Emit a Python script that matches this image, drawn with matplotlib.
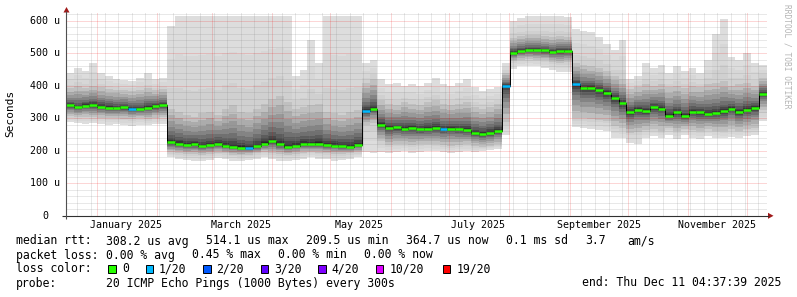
import numpy as np
import matplotlib
matplotlib.use("Agg")
import matplotlib.pyplot as plt
import matplotlib.dates as mdates
from matplotlib.patches import Rectangle, Polygon
from datetime import datetime, timedelta

plt.rcParams["font.family"] = ["DejaVu Sans Mono", "DejaVu Sans"]

END = datetime(2025, 12, 11, 4, 37, 39)
START = END - timedelta(days=360)
STEP_DAYS = 4

# one value per 4-day column, in microseconds
median_us = [340, 334, 339, 341, 336, 333, 331, 334, 329, 328, 333, 337, 340,
             226, 222, 218, 220, 214, 218, 222, 215, 212, 210, 208, 214, 222,
             230, 220, 212, 216, 222, 220, 222, 218, 216, 214, 212, 218,
             322, 330,
             280, 270, 272, 268, 270, 266, 268, 270, 266, 268, 266, 264, 255,
             252, 256, 262,
             400,
             502, 508, 510, 510, 509, 504, 506, 508,
             405,
             392, 394, 386, 378, 362, 346, 318, 326, 322, 334, 330, 308, 318,
             306, 320, 318, 314, 316, 322, 330, 318, 326, 332, 376]

smoke_min = [288, 285, 284, 286, 283, 280, 282, 278, 276, 280, 278, 282, 284,
             180, 176, 172, 170, 168, 172, 178, 174, 170, 168, 172, 176, 180,
             174, 170, 168, 172, 176, 180, 176, 174, 170, 172, 176, 180,
             195, 192,
             195, 192, 196, 198, 194, 196, 200, 198, 195, 192, 196, 198, 195,
             200, 202, 205,
             250,
             452, 460, 462, 460, 456, 448, 444, 442,
             272,
             270, 266, 264, 262, 240, 238, 225, 222, 240, 245, 238, 250, 236,
             248, 240, 235, 245, 240, 238, 244, 240, 246, 250, 292]

smoke_lo = [306, 304, 305, 303, 302, 300, 301, 299, 298, 300, 298, 302, 304,
            195, 192, 190, 190, 188, 190, 194, 192, 188, 186, 188, 192, 196,
            192, 190, 188, 190, 194, 196, 194, 192, 190, 190, 192, 195,
            280, 285,
            230, 218, 220, 222, 218, 220, 222, 220, 218, 216, 218, 220, 215,
            212, 215, 220,
            290,
            475, 480, 482, 480, 478, 472, 470, 472,
            300,
            300, 298, 296, 292, 275, 270, 255, 258, 265, 268, 262, 270, 260,
            268, 264, 260, 266, 262, 260, 266, 262, 268, 270, 325]

smoke_hi = [392, 398, 394, 400, 395, 390, 388, 386, 384, 388, 392, 386, 390,
            330, 320, 310, 305, 315, 320, 310, 330, 340, 320, 315, 330, 345,
            360, 370, 350, 330, 335, 340, 345, 320, 315, 310, 320, 325,
            410, 420,
            355, 345, 340, 350, 345, 340, 350, 355, 345, 340, 345, 350, 335,
            330, 335, 345,
            440,
            548, 552, 555, 555, 552, 550, 552, 550,
            470,
            465, 460, 455, 445, 430, 420, 390, 395, 405, 400, 405, 395, 400,
            392, 398, 395, 405, 410, 415, 400, 405, 410, 400, 425]

smoke_max = [440, 455, 445, 470, 440, 430, 420, 418, 415, 425, 440, 420, 425,
             585, 615, 615, 615, 615, 615, 615, 615, 615, 615, 615, 615, 615,
             615, 615, 615, 430, 450, 540, 470, 615, 615, 615, 615, 615,
             470, 480,
             420, 405, 410, 400, 405, 400, 410, 425, 405, 400, 410, 420, 395,
             385, 390, 395,
             470,
             600, 610, 615, 615, 615, 615, 615, 612,
             575,
             570, 565, 550, 530, 510, 540, 420, 430, 470, 455, 465, 440, 460,
             445, 455, 440, 480, 560, 605, 490, 480, 500, 470, 465]

# columns where 1 of 20 pings was lost
loss_cols = [8, 23, 38, 48, 56, 65]

loss_labels = ["0", "1/20", "2/20", "3/20", "4/20", "10/20", "19/20"]
loss_colors = ["#26ff00", "#00b8ff", "#0059ff", "#5e00ff", "#7e00ff", "#dd00ff", "#ff0000"]

y_ticks = [0, 100, 200, 300, 400, 500, 600]
label_months = [1, 3, 5, 7, 9, 11]

W, H = 797, 297
fig = plt.figure(figsize=(W / 100, H / 100), dpi=100)
fig.patch.set_facecolor("white")

X0, X1 = 66.0, 766.5
Y0, Y1 = 215.8, 13.0
ax = fig.add_axes([X0 / W, 1 - Y0 / H, (X1 - X0) / W, (Y0 - Y1) / H])
ax.set_facecolor("white")
t0 = mdates.date2num(START)
ax.set_xlim(t0, mdates.date2num(END))
ax.set_ylim(0, (Y0 - Y1) / 0.325)
for s in ax.spines.values():
    s.set_visible(False)

n = len(median_us)
xe = t0 + STEP_DAYS * np.arange(n + 1)
med = np.array(median_us, float)
mn = np.array(smoke_min, float)
lo = np.array(smoke_lo, float)
hi = np.array(smoke_hi, float)
mx = np.array(smoke_max, float)


def band(lower, upper, color):
    ax.fill_between(xe, np.append(lower, lower[-1]), np.append(upper, upper[-1]),
                    step="post", color=color, lw=0, zorder=1)


def grey(g):
    g = int(round(g))
    return "#%02x%02x%02x" % (g, g, g)


# smoke: light outer part, darker towards the median
for t, g in zip([0.0, 0.4, 0.75], [221, 215, 208]):
    band(mn + t * (lo - mn), mx - t * (mx - hi), grey(g))
for t, g in zip([0.0, 0.2, 0.38, 0.54, 0.67, 0.78, 0.87, 0.93, 0.97],
                [192, 172, 152, 132, 112, 92, 72, 54, 40]):
    band(lo + t * (med - lo), hi - t * (hi - med), grey(g))

# dotted grid
dash = (0, (1, 1))
minor_c = (0.5, 0.5, 0.5, 0.35)
major_c = (0.95, 0.0, 0.0, 0.32)
d = START.date() + timedelta(days=1)
while d < END.date():
    xd = mdates.date2num(datetime(d.year, d.month, d.day))
    if d.day == 1:
        ax.axvline(xd, color=major_c, lw=0.72, ls=dash, zorder=3)
    elif d.weekday() == 6:
        ax.axvline(xd, color=minor_c, lw=0.72, ls=dash, zorder=3)
    d += timedelta(days=1)
for v in range(20, 621, 20):
    c = major_c if v % 100 == 0 else minor_c
    ax.axhline(v, color=c, lw=0.72, ls=dash, zorder=3)

# median line coloured by loss
ax.step(xe, np.append(med, med[-1]), where="post", color="black", lw=0.7, zorder=4)
seg_colors = [loss_colors[1] if i in loss_cols else loss_colors[0] for i in range(n)]
ax.hlines(med, xe[:-1], xe[1:], colors=seg_colors, lw=1.8, zorder=5)

# ticks / labels
ax.set_xticks([])
ax.set_yticks([])
xt = ax.get_xaxis_transform()
for m in label_months:
    pos = mdates.date2num(datetime(2025, m, 1) + timedelta(days=15))
    ax.text(pos, -8.9 / (Y0 - Y1), datetime(2025, m, 1).strftime("%B %Y"), transform=xt,
            ha="center", va="center", fontsize=7.2, color="black")
yt = ax.get_yaxis_transform()
for v in y_ticks:
    if v == 0:
        ax.text(-20.5 / (X1 - X0), v, "0", transform=yt, ha="center", va="center", fontsize=7.2)
    else:
        ax.text(-5.5 / (X1 - X0), v, f"{v} u", transform=yt, ha="right", va="center", fontsize=7.2)

# overlay in pixel coordinates for axes arrows and legend
ov = fig.add_axes([0, 0, 1, 1], zorder=5)
ov.set_xlim(0, W)
ov.set_ylim(H, 0)
ov.axis("off")

ov.plot([62, 769], [Y0, Y0], color="#303030", lw=0.8, solid_capstyle="butt")
ov.plot([66.5, 66.5], [219, 11], color="#505050", lw=0.8, solid_capstyle="butt")
ov.add_patch(Polygon([[768, 212.8], [773.5, 215.8], [768, 218.8]], closed=True, color="#a01818", lw=0))
ov.add_patch(Polygon([[63.5, 12.5], [66.5, 7], [69.5, 12.5]], closed=True, color="#a01818", lw=0))

ov.text(10, 113.5, "Seconds", rotation=90, ha="center", va="center", fontsize=8)
ov.text(787.5, 4.5, "RRDTOOL / TOBI OETIKER", rotation=-90, ha="center", va="top",
        fontsize=5.7, color="#b4b4b4")

fs = 8.3
ov.text(16, 241, "median rtt:", ha="left", va="center", fontsize=fs)
for x, s in zip([106, 206, 306, 406.5, 506.5, 585, 627.5],
                ["308.2 us avg", "514.1 us max", "209.5 us min", "364.7 us now",
                 "0.1 ms sd", "3.7", "am/s"]):
    ov.text(x, 241, s, ha="left", va="center", fontsize=fs)

ov.text(16, 255, "packet loss:", ha="left", va="center", fontsize=fs)
for x, s in zip([106, 192.5, 278.5, 364.5],
                ["0.00 % avg", "0.45 % max", "0.00 % min", "0.00 % now"]):
    ov.text(x, 255, s, ha="left", va="center", fontsize=fs)

ov.text(16, 269, "loss color:", ha="left", va="center", fontsize=fs)
for bx, tx, lab, col in zip([108.3, 145.7, 203.3, 261, 318.3, 376, 442.7],
                            [122.5, 158.5, 216.5, 274.5, 331.5, 389.5, 456.5],
                            loss_labels, loss_colors):
    ov.add_patch(Rectangle((bx, 264.8), 7.5, 8, facecolor=col, edgecolor="black", lw=0.7))
    ov.text(tx, 269, lab, ha="left", va="center", fontsize=fs)

ov.text(16, 283, "probe:", ha="left", va="center", fontsize=fs)
ov.text(106, 283, "20 ICMP Echo Pings (1000 Bytes) every 300s", ha="left", va="center", fontsize=fs)
ov.text(781, 283, "end: Thu Dec 11 04:37:39 2025", ha="right", va="center", fontsize=fs)

fig.savefig("out.png", dpi=100, facecolor="white")
